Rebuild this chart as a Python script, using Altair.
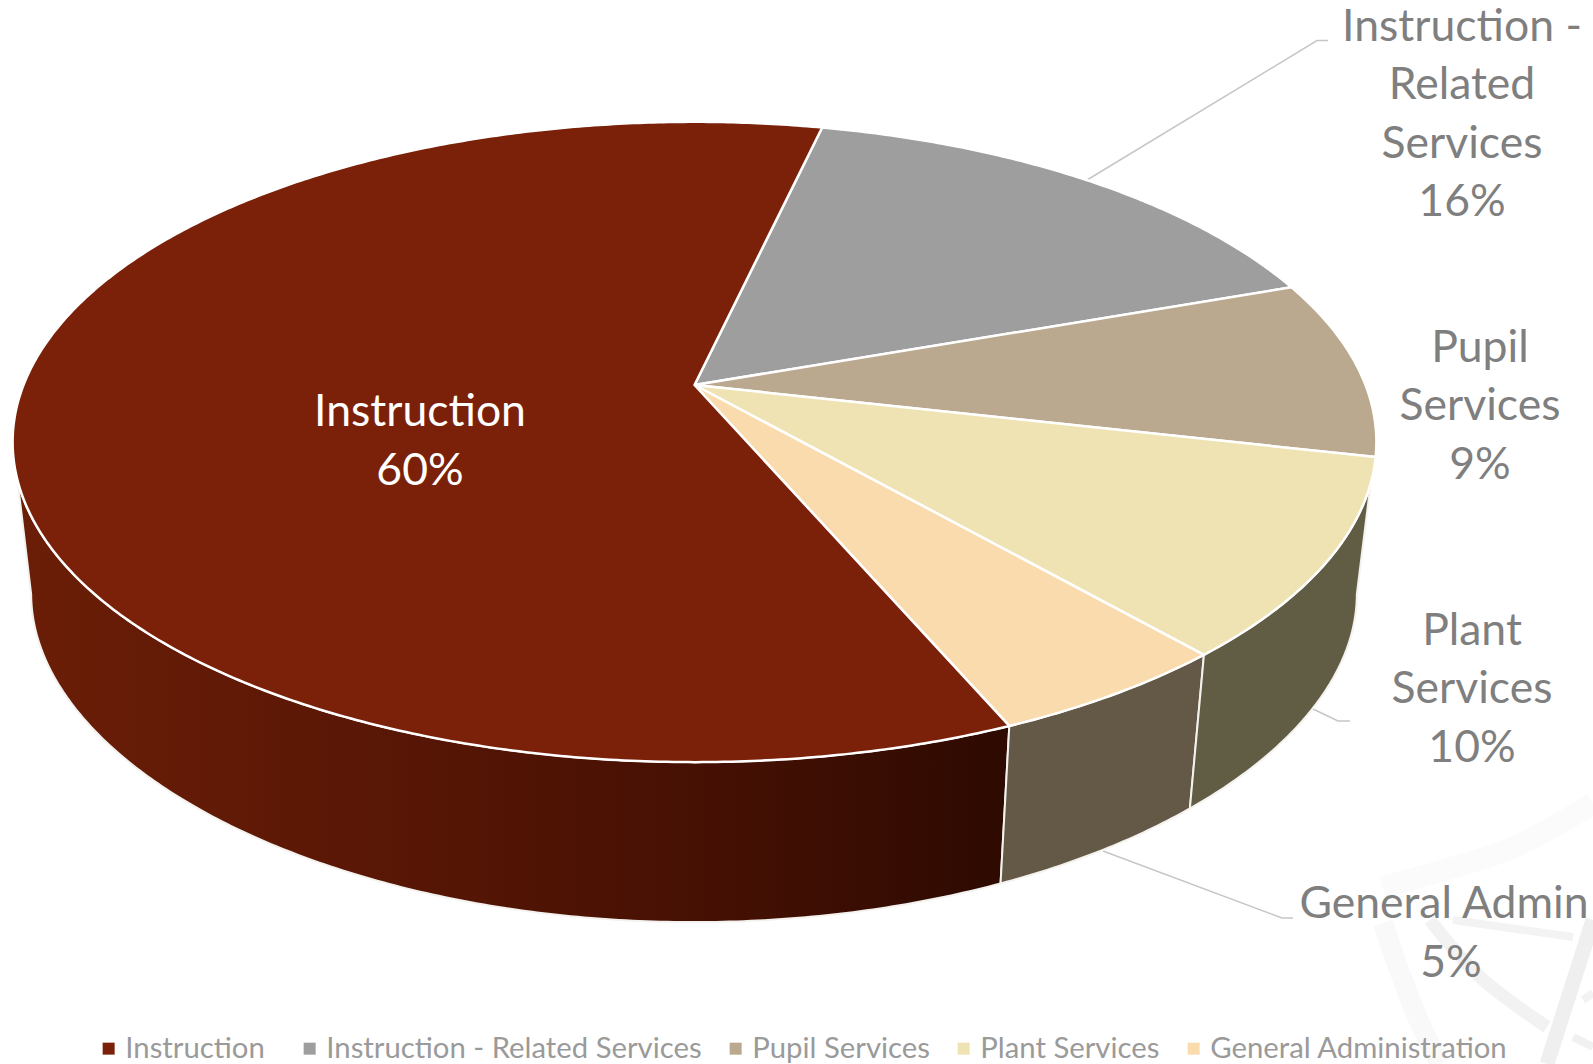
import math
import altair as alt

# Budget shares, clockwise from the first boundary behind the centre
categories = ["Instruction - Related Services", "Pupil Services", "Plant Services",
              "General Administration", "Instruction"]
shares = [16, 9, 10, 5, 60]
legend_order = ["Instruction", "Instruction - Related Services", "Pupil Services",
                "Plant Services", "General Administration"]
top_colors = ["#7b2109", "#9e9e9e", "#baa98e", "#efe3b3", "#f9dbae"]

W, H = 1593, 1064
START_ANGLE = 12.9
FONT = "Lato"
TEXT_GREY = "#7f7f7f"

# Perspective of the disc: top face and the smaller bottom face
TOP = dict(cx=694.5, cy=385, a=671, b=310, px=0.178, py=0.178)
BOTTOM = dict(cx=694, cy=537.5, a=652, b=300, px=0.18, py=0.22)


def project(face, angle):
    t = math.radians(angle)
    u, v = math.sin(t), math.cos(t)
    return [face["cx"] + face["a"] * u / (1 + face["px"] * v),
            face["cy"] - face["b"] * v / (1 + face["py"] * v)]


def sweep(a0, a1, step=0.5):
    n = max(2, int(abs(a1 - a0) / step))
    return [a0 + (a1 - a0) * i / n for i in range(n + 1)]


def feature(name, ring):
    ring = ring + [ring[0]]
    return {"type": "Feature", "properties": {"name": name},
            "geometry": {"type": "Polygon", "coordinates": [ring]}}


def wall(name, top_from, top_to, bottom_from, bottom_to):
    return feature(name, [project(TOP, a) for a in sweep(top_from, top_to)]
                   + [project(BOTTOM, a) for a in sweep(bottom_to, bottom_from)])


# Slice boundaries follow from the shares
edges = [START_ANGLE]
for s in shares:
    edges.append(edges[-1] + s * 3.6)

slices = [feature(n, [[TOP["cx"], TOP["cy"]]] + [project(TOP, a) for a in sweep(edges[i], edges[i + 1])])
          for i, n in enumerate(categories)]

identity = alt.Projection(type="identity", scale=1, translate=[0, 0])
x_px = alt.Scale(domain=[0, W], range=[0, W], nice=False, zero=False)
y_px = alt.Scale(domain=[0, H], range=[0, H], nice=False, zero=False)
X = lambda f="x": alt.X(f"{f}:Q", scale=x_px, axis=None)
Y = lambda f="y": alt.Y(f"{f}:Q", scale=y_px, axis=None)

# Faint ribbon artwork behind the lower right corner
ribbons = [
    ([1593, 1507, 1383], [803, 850, 887], "#fbfbfb", 22),
    ([1383, 1413, 1440], [923, 1007, 1064], "#f9f9f9", 20),
    ([1430, 1480, 1547], [920, 977, 1027], "#f2f2f2", 13),
    ([1593, 1547], [920, 1064], "#efefef", 15),
    ([1453, 1573], [920, 937], "#f3f3f3", 8),
    ([1573, 1593], [1037, 1047], "#f1f1f1", 8),
    ([1583, 1593], [1000, 993], "#f2f2f2", 8),
]
ribbon_layers = [
    alt.Chart(alt.Data(values=[{"x": a, "y": b, "i": j} for j, (a, b) in enumerate(zip(xs, ys))]))
    .mark_line(color=c, strokeWidth=w, interpolate="cardinal", clip=True)
    .encode(x=X(), y=Y(), order="i:Q")
    for xs, ys, c, w in ribbons
]

# Leader lines from the rim to the outside labels
leaders = [
    ([1087, 1317, 1328], [180, 40.5, 40.5]),
    ([1313, 1338, 1350], [709, 721, 721]),
    ([1103, 1282, 1293], [851, 918, 918]),
]
leader_layers = [
    alt.Chart(alt.Data(values=[{"x": a, "y": b, "i": j} for j, (a, b) in enumerate(zip(xs, ys))]))
    .mark_line(color="#c6c6c6", strokeWidth=1.5)
    .encode(x=X(), y=Y(), order="i:Q")
    for xs, ys in leaders
]

# Side walls of the visible front of the disc
instruction_shade = alt.Gradient(
    gradient="linear", x1=0, y1=0, x2=1, y2=0,
    stops=[alt.GradientStop(offset=0, color="#6b1e07"),
           alt.GradientStop(offset=0.4, color="#571605"),
           alt.GradientStop(offset=0.75, color="#420f03"),
           alt.GradientStop(offset=1, color="#2d0a01")],
)
wall_spec = [
    (wall("Instruction wall", edges[4], 253, edges[4], 259.5), instruction_shade),
    (wall("General Administration wall", edges[3], edges[4], edges[3], edges[4]), "#645846"),
    (wall("Plant Services wall", 107.5, edges[3], 100.5, edges[3]), "#615d45"),
]
wall_layers = [
    alt.Chart(alt.Data(values=[f]))
    .mark_geoshape(fill=fill, stroke="#f4f2ee", strokeWidth=2, strokeJoin="round")
    .project(**identity.to_dict())
    for f, fill in wall_spec
]


# Top face of the pie; the lead entry and the other four carry separate legend groups
def face_layer(names, colors, legend_x):
    return (
        alt.Chart(alt.Data(values=[f for f in slices if f["properties"]["name"] in names]))
        .mark_geoshape(stroke="white", strokeWidth=2.5, strokeJoin="round")
        .encode(
            color=alt.Color(
                "properties.name:N",
                scale=alt.Scale(domain=names, range=colors),
                legend=alt.Legend(
                    title=None, orient="none", legendX=legend_x, legendY=1034, direction="horizontal",
                    columns=len(names), symbolType="square", symbolSize=144, symbolStrokeWidth=0,
                    symbolOffset=0, labelFont=FONT, labelFontSize=29.3, labelColor="#9a9a9a",
                    labelOffset=2, columnPadding=19, labelLimit=500, padding=0,
                ),
            )
        )
        .project(**identity.to_dict())
    )


top_faces = [
    face_layer(legend_order[1:], top_colors[1:], 295),
    face_layer(legend_order[:1], top_colors[:1], 94),
]

# Data labels, one row per drawn line
labels = [
    ("Instruction -", 1462, 41, TEXT_GREY), ("Related", 1462, 99, TEXT_GREY),
    ("Services", 1462, 158, TEXT_GREY), ("16%", 1462, 216, TEXT_GREY),
    ("Pupil", 1480, 362, TEXT_GREY), ("Services", 1480, 420, TEXT_GREY), ("9%", 1480, 479, TEXT_GREY),
    ("Plant", 1472, 645, TEXT_GREY), ("Services", 1472, 703, TEXT_GREY), ("10%", 1472, 762, TEXT_GREY),
    ("General Admin", 1444, 918, TEXT_GREY), ("5%", 1451, 977, TEXT_GREY),
    ("Instruction", 420, 426, "#ffffff"), ("60%", 420, 485, "#ffffff"),
]
label_layer = (
    alt.Chart(alt.Data(values=[{"t": t, "x": x, "y": y, "c": c} for t, x, y, c in labels]))
    .mark_text(font=FONT, fontSize=44.5, align="center", baseline="alphabetic")
    .encode(x=X(), y=Y(), text="t:N", color=alt.Color("c:N", scale=None, legend=None))
)

chart = (
    alt.layer(*ribbon_layers, *leader_layers, *wall_layers, *top_faces, label_layer)
    .resolve_scale(color="independent")
    .properties(width=W, height=H, background="white", padding=0,
                autosize=alt.AutoSizeParams(type="none", contains="content"))
    .configure_view(stroke=None)
)

chart.save("out.html", embed_options={"renderer": "svg", "actions": False})
